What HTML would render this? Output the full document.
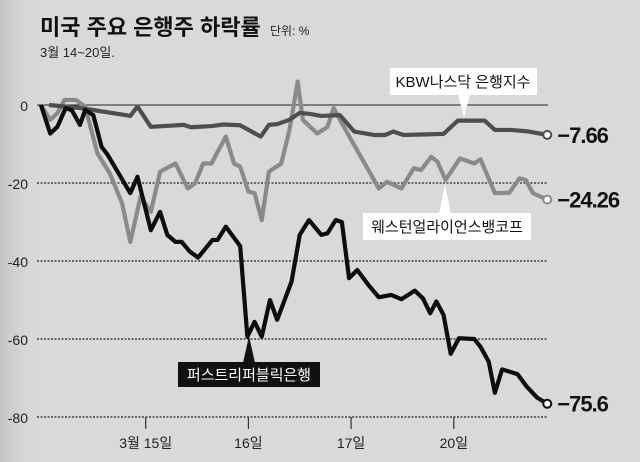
<!DOCTYPE html>
<html><head><meta charset="utf-8"><style>
body{margin:0;}
#wrap{position:relative;width:640px;height:462px;overflow:hidden;background:#d9d9d9;font-family:"Liberation Sans","Noto Sans CJK KR",sans-serif;}
</style></head><body>
<div id="wrap">
<svg id="chart" width="640" height="462" viewBox="0 0 640 462" xmlns="http://www.w3.org/2000/svg">
<defs><linearGradient id="bg" x1="0" x2="1" y1="0" y2="0"><stop offset="0" stop-color="#c4c4c4"/><stop offset="1" stop-color="#d9d9d9" stop-opacity="0"/></linearGradient></defs>
<rect x="0" y="0" width="40" height="462" fill="url(#bg)"/>
<text x="40" y="35" font-size="22" font-weight="bold" fill="#111">미국 주요 은행주 하락률</text>
<text x="270" y="35" font-size="12" fill="#222">단위: %</text>
<text x="40" y="57" font-size="13" fill="#222">3월 14~20일.</text>
<g id="grid"></g><g id="series"></g><g id="labels"></g>
</svg>
</div>
<script>
const yTicks=[0,-20,-40,-60,-80];
const xTickDays=[1,2,3,4];
const xTickLabels=["3월 15일","16일","17일","20일"];
const frbX=[-0.02,0.07,0.14,0.22,0.28,0.36,0.41,0.49,0.57,0.63,0.85,0.92,1.05,1.14,1.21,1.29,1.35,1.43,1.51,1.65,1.70,1.78,1.92,1.99,2.06,2.13,2.21,2.28,2.42,2.50,2.59,2.71,2.77,2.85,2.91,2.98,3.06,3.17,3.27,3.39,3.49,3.62,3.70,3.77,3.83,3.90,3.97,4.05,4.20,4.26,4.34,4.40,4.47,4.62,4.71,4.81,4.91];
const frbV=[0,-7.3,-5.6,-0.8,-1.3,-5.1,-1.3,-2.6,-10.7,-12.8,-22.6,-18.4,-32.1,-27.4,-33.3,-35.1,-35.1,-37.6,-39.1,-34.6,-34.6,-31.2,-36.2,-59.4,-55.6,-59.4,-50,-55.1,-45.3,-33.3,-29.5,-33.3,-32.9,-29.5,-30,-44.4,-42.3,-46.2,-49.3,-48.7,-49.8,-47.6,-49.6,-53.4,-50.4,-53.8,-63.8,-59.8,-60,-62,-65.8,-73.8,-67.8,-69,-72.2,-75,-76.6];
const wabX=[-0.02,0.07,0.14,0.21,0.32,0.41,0.53,0.65,0.77,0.85,0.95,1.05,1.14,1.29,1.41,1.48,1.56,1.64,1.78,1.86,1.92,2.00,2.06,2.13,2.20,2.32,2.40,2.48,2.53,2.67,2.77,2.83,2.91,3.27,3.35,3.49,3.61,3.68,3.78,3.84,3.92,4.06,4.20,4.26,4.40,4.54,4.64,4.70,4.77,4.91];
const wabV=[0,-3.8,-2.1,1.3,1.3,-0.4,-12.4,-17.5,-25.2,-35.1,-23.5,-27.4,-17.1,-15,-21.4,-20.1,-15,-15,-8.1,-15,-15.8,-22.2,-22.6,-29.5,-17.1,-15,-6.4,6.0,-3.8,-7.3,-5.6,-0.8,-4.7,-21.4,-19.7,-21.4,-16.2,-16.7,-13.3,-14.5,-19.2,-13.7,-15,-13.9,-22.6,-22.5,-18.8,-19.2,-22.6,-24.26];
const kbwX=[0.06,0.37,0.85,0.92,1.05,1.37,1.44,1.64,1.76,1.92,2.12,2.20,2.28,2.40,2.50,2.60,2.71,2.89,3.03,3.23,3.33,3.41,3.51,3.90,4.04,4.30,4.40,4.56,4.73,4.91];
const kbwV=[0,-0.8,-2.8,-0.4,-5.6,-5.1,-5.7,-5.4,-5,-5.2,-8.1,-5.1,-4.9,-3.8,-2,-2.3,-2.8,-2.6,-6.8,-7.7,-7.7,-6.8,-7.7,-7.4,-4,-4,-6.4,-6.4,-6.8,-7.66];
const endLabels=["−7.66","−24.26","−75.6"];

const NS="http://www.w3.org/2000/svg";
const X=d=>43+d*102.7;
const Y=v=>105-v*3.9;
function mk(tag,attrs,parent){const e=document.createElementNS(NS,tag);for(const k in attrs)e.setAttribute(k,attrs[k]);parent.appendChild(e);return e;}
const grid=document.getElementById('grid'),ser=document.getElementById('series'),lab=document.getElementById('labels');
yTicks.forEach(t=>{
  const l=mk('line',{x1:37,x2:548,y1:Y(t),y2:Y(t),stroke:'#222','stroke-width':t===0?1:1.2,'stroke-dasharray':t===0?'none':'2,1.5'},grid);
  
  
  const tx=mk('text',{x:28,y:Y(t)+6,'font-size':14,'text-anchor':'end',fill:'#222'},grid);
  tx.textContent=String(t);
  
  
});
xTickDays.forEach((d,i)=>{
  const l=mk('line',{x1:X(d),x2:X(d),y1:Y(-80),y2:Y(-80)+12,stroke:'#333','stroke-width':1.2},grid);
  
  
  const tx=mk('text',{x:X(d),y:448,'font-size':14,'text-anchor':'middle',fill:'#222'},grid);
  tx.textContent=xTickLabels[i];
  
  
});
function line(xs,vs,color,name){
  const p=mk('polyline',{points:xs.map((d,i)=>X(d)+','+Y(vs[i])).join(' '),fill:'none',stroke:color,'stroke-width':4.2,'stroke-linejoin':'round'},ser);
  
  
  const n=xs.length-1;
  const c=mk('circle',{cx:X(xs[n]),cy:Y(vs[n]),r:4,fill:'#fff',stroke:color,'stroke-width':2},ser);
  
  
}
line(wabX,wabV,'#8a8a8a','western-alliance-line');
line(kbwX,kbwV,'#4e4e4e','kbw-index-line');
line(frbX,frbV,'#0d0d0d','first-republic-line');
[[kbwV,kbwX],[wabV,wabX],[frbV,frbX]].forEach((s,i)=>{
  const n=s[0].length-1;
  const t=mk('text',{x:X(s[1][n])+10,y:Y(s[0][n])+8,'font-size':22,'font-weight':'bold',fill:'#111','letter-spacing':'-1'},lab);
  t.textContent=endLabels[i];
  
  
});
</script>
<svg width="640" height="462" style="position:absolute;left:0;top:0">
<g>
<rect x="390" y="68" width="147" height="27" fill="#fff"/>
<polygon points="458,94 470,94 464,118" fill="#fff"/>
<text x="463" y="87" font-size="15" text-anchor="middle" fill="#111" font-family="Liberation Sans,Noto Sans CJK KR,sans-serif">KBW나스닥 은행지수</text>
</g>
<g>
<rect x="363" y="213" width="168" height="27" fill="#fff"/>
<polygon points="439,214 451,214 445,184" fill="#fff"/>
<text x="447" y="232" font-size="15" text-anchor="middle" fill="#111" font-family="Liberation Sans,Noto Sans CJK KR,sans-serif">웨스턴얼라이언스뱅코프</text>
</g>
<g>
<rect x="178" y="362" width="142" height="25" fill="#111"/>
<polygon points="243,363 255,363 249,336" fill="#111"/>
<text x="249" y="380" font-size="15" text-anchor="middle" fill="#fff" font-family="Liberation Sans,Noto Sans CJK KR,sans-serif">퍼스트리퍼블릭은행</text>
</g>
</svg>
</body></html>
